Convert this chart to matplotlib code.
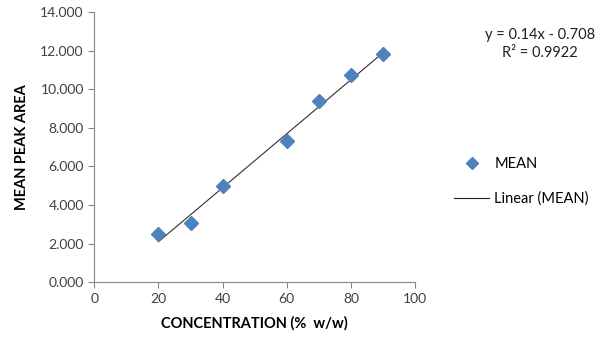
import matplotlib.pyplot as plt
from matplotlib.lines import Line2D

# data
concentration = [20, 30, 40, 60, 70, 80, 90]
mean_area = [2.52, 3.09, 4.98, 7.32, 9.38, 10.74, 11.81]
slope = 0.14
intercept = -0.708
y_ticks = [0, 2, 4, 6, 8, 10, 12, 14]
x_ticks = [0, 20, 40, 60, 80, 100]

plt.rcParams['font.family'] = ['Lato', 'DejaVu Sans']

fig = plt.figure(figsize=(6, 3.42), dpi=100)
ax = fig.add_axes([0.157, 0.175, 0.535, 0.79])

blue = '#4F81BD'
grey = '#868686'

ax.plot(concentration, mean_area, linestyle='none', marker='D', markersize=7,
        color=blue, zorder=3)
fit_x = [concentration[0], concentration[-1]]
fit_y = [slope * x + intercept for x in fit_x]
ax.plot(fit_x, fit_y, color='#303030', linewidth=0.8, zorder=2)

ax.set_xlim(0, 100)
ax.set_ylim(0, 14)
ax.set_xticks(x_ticks)
ax.set_yticks(y_ticks)
ax.set_yticklabels([f"{v:.3f}" for v in y_ticks])
ax.tick_params(labelsize=10, colors='#404040', length=4, color=grey)
for s in ['top', 'right']:
    ax.spines[s].set_visible(False)
for s in ['left', 'bottom']:
    ax.spines[s].set_color(grey)

ax.set_xlabel("CONCENTRATION (%  w/w)", fontsize=10.5, fontweight='bold', labelpad=8)
ax.set_ylabel("MEAN PEAK AREA", fontsize=10.5, fontweight='bold', labelpad=8)

fig.text(0.9, 0.887, f"y = {slope}x - {abs(intercept)}", ha='center', fontsize=10.5, color='#202020')
fig.text(0.9, 0.832, "R² = 0.9922", ha='center', fontsize=10.5, color='#202020')

handles = [
    Line2D([], [], linestyle='none', marker='D', markersize=6, color=blue, label='MEAN'),
    Line2D([], [], color='#202020', linewidth=0.8, label='Linear (MEAN)'),
]
fig.legend(handles=handles, loc='center left', bbox_to_anchor=(0.757, 0.47),
           frameon=False, fontsize=10.5, handlelength=2.4, handletextpad=0.35,
           labelspacing=1.4, borderpad=0, borderaxespad=0)

fig.savefig("out.png", dpi=100)
